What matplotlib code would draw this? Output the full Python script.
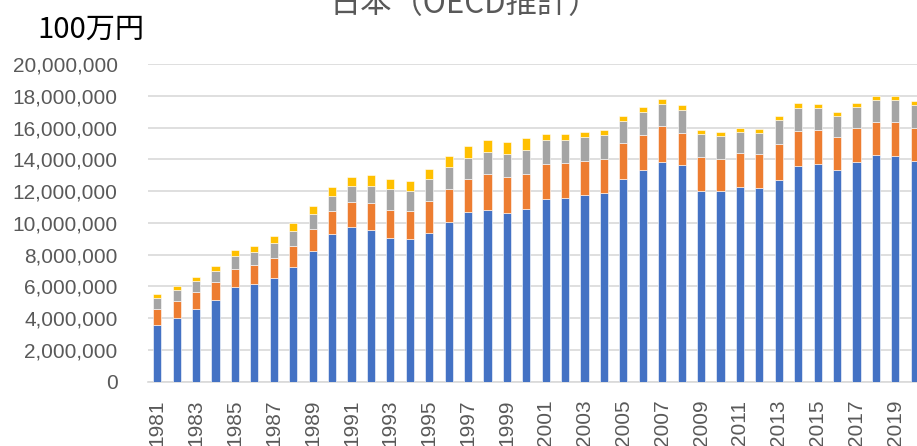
import numpy as np
import matplotlib
matplotlib.use("Agg")
import matplotlib.pyplot as plt
from matplotlib.ticker import FuncFormatter

plt.rcParams['font.family'] = ['Noto Sans CJK JP', 'DejaVu Sans']

# 年
years = list(range(1981, 2021))

# 積み上げの各成分（100万円、単位は10^6）
blue = [3.60, 4.03, 4.56, 5.13, 5.95, 6.13, 6.50, 7.21, 8.23, 9.27,
        9.73, 9.56, 9.03, 8.97, 9.39, 10.04, 10.67, 10.80, 10.63, 10.86,
        11.47, 11.58, 11.75, 11.87, 12.78, 13.34, 13.85, 13.66, 12.00, 12.02,
        12.27, 12.19, 12.72, 13.60, 13.71, 13.35, 13.83, 14.25, 14.21, 13.89]
orange = [0.98, 1.03, 1.07, 1.13, 1.16, 1.20, 1.28, 1.32, 1.37, 1.47,
          1.57, 1.67, 1.81, 1.77, 1.96, 2.11, 2.11, 2.27, 2.25, 2.23,
          2.24, 2.19, 2.17, 2.15, 2.23, 2.21, 2.23, 2.02, 2.13, 2.02,
          2.13, 2.13, 2.25, 2.19, 2.14, 2.08, 2.11, 2.09, 2.15, 2.07]
gray = [0.66, 0.69, 0.71, 0.74, 0.81, 0.82, 0.95, 0.94, 0.97, 0.97,
        1.04, 1.11, 1.27, 1.26, 1.41, 1.37, 1.33, 1.41, 1.48, 1.52,
        1.49, 1.47, 1.49, 1.50, 1.41, 1.44, 1.39, 1.44, 1.47, 1.43,
        1.35, 1.36, 1.51, 1.47, 1.37, 1.29, 1.37, 1.41, 1.39, 1.47]
yellow = [0.28, 0.26, 0.28, 0.31, 0.37, 0.42, 0.45, 0.49, 0.50, 0.55,
          0.55, 0.65, 0.62, 0.63, 0.63, 0.67, 0.71, 0.72, 0.71, 0.72,
          0.38, 0.34, 0.32, 0.31, 0.30, 0.32, 0.32, 0.29, 0.25, 0.26,
          0.23, 0.24, 0.24, 0.26, 0.25, 0.23, 0.25, 0.23, 0.25, 0.23]

series = [blue, orange, gray, yellow]
colors = ['#4472C4', '#ED7D31', '#A5A5A5', '#FFC000']

W, H = 917, 446
fig = plt.figure(figsize=(W / 100, H / 100), dpi=100)
# プロット領域は右端で少しはみ出す
left, right = 147.6, 924.4
bottom, top = 381.7, 64.0
ax = fig.add_axes([left / W, 1 - bottom / H, (right - left) / W, (bottom - top) / H])

x = np.arange(len(years))
base = np.zeros(len(years))
for vals, c in zip(series, colors):
    v = np.array(vals) * 1e6
    ax.bar(x, v, bottom=base, width=0.42, color=c, edgecolor='white', linewidth=0.4, zorder=3)
    base += v

ax.set_xlim(-0.5, len(years) - 0.5)
ax.set_ylim(0, 20e6)
ax.set_yticks(np.arange(0, 20e6 + 1, 2e6))
ax.yaxis.set_major_formatter(FuncFormatter(lambda v, p: '{:,.0f}'.format(v)))
ax.set_xticks(x[::2])
ax.set_xticklabels([str(y) for y in years[::2]], rotation=90)

for lab in ax.get_xticklabels() + ax.get_yticklabels():
    lab.set_family(['Liberation Sans', 'DejaVu Sans'])
    lab.set_fontsize(15)
    lab.set_color('#595959')

ax.tick_params(axis='y', length=0, pad=21.5)
ax.tick_params(axis='x', length=0, pad=13)
ax.grid(axis='y', color='#D9D9D9', linewidth=1.2, zorder=0)
for s in ['top', 'right', 'left']:
    ax.spines[s].set_visible(False)
ax.spines['bottom'].set_color('#D9D9D9')
ax.spines['bottom'].set_linewidth(1.2)

# タイトルは参照画像と同じく上端で切れている
fig.text(465 / W, 1 - 13 / H, '日本（OECD推計）', ha='center', va='baseline',
         fontsize=22.5, color='#595959')
fig.text(37 / W, 1 - 38 / H, '100万円', ha='left', va='baseline',
         fontsize=21, color='black')

fig.savefig('out.png', dpi=100)
